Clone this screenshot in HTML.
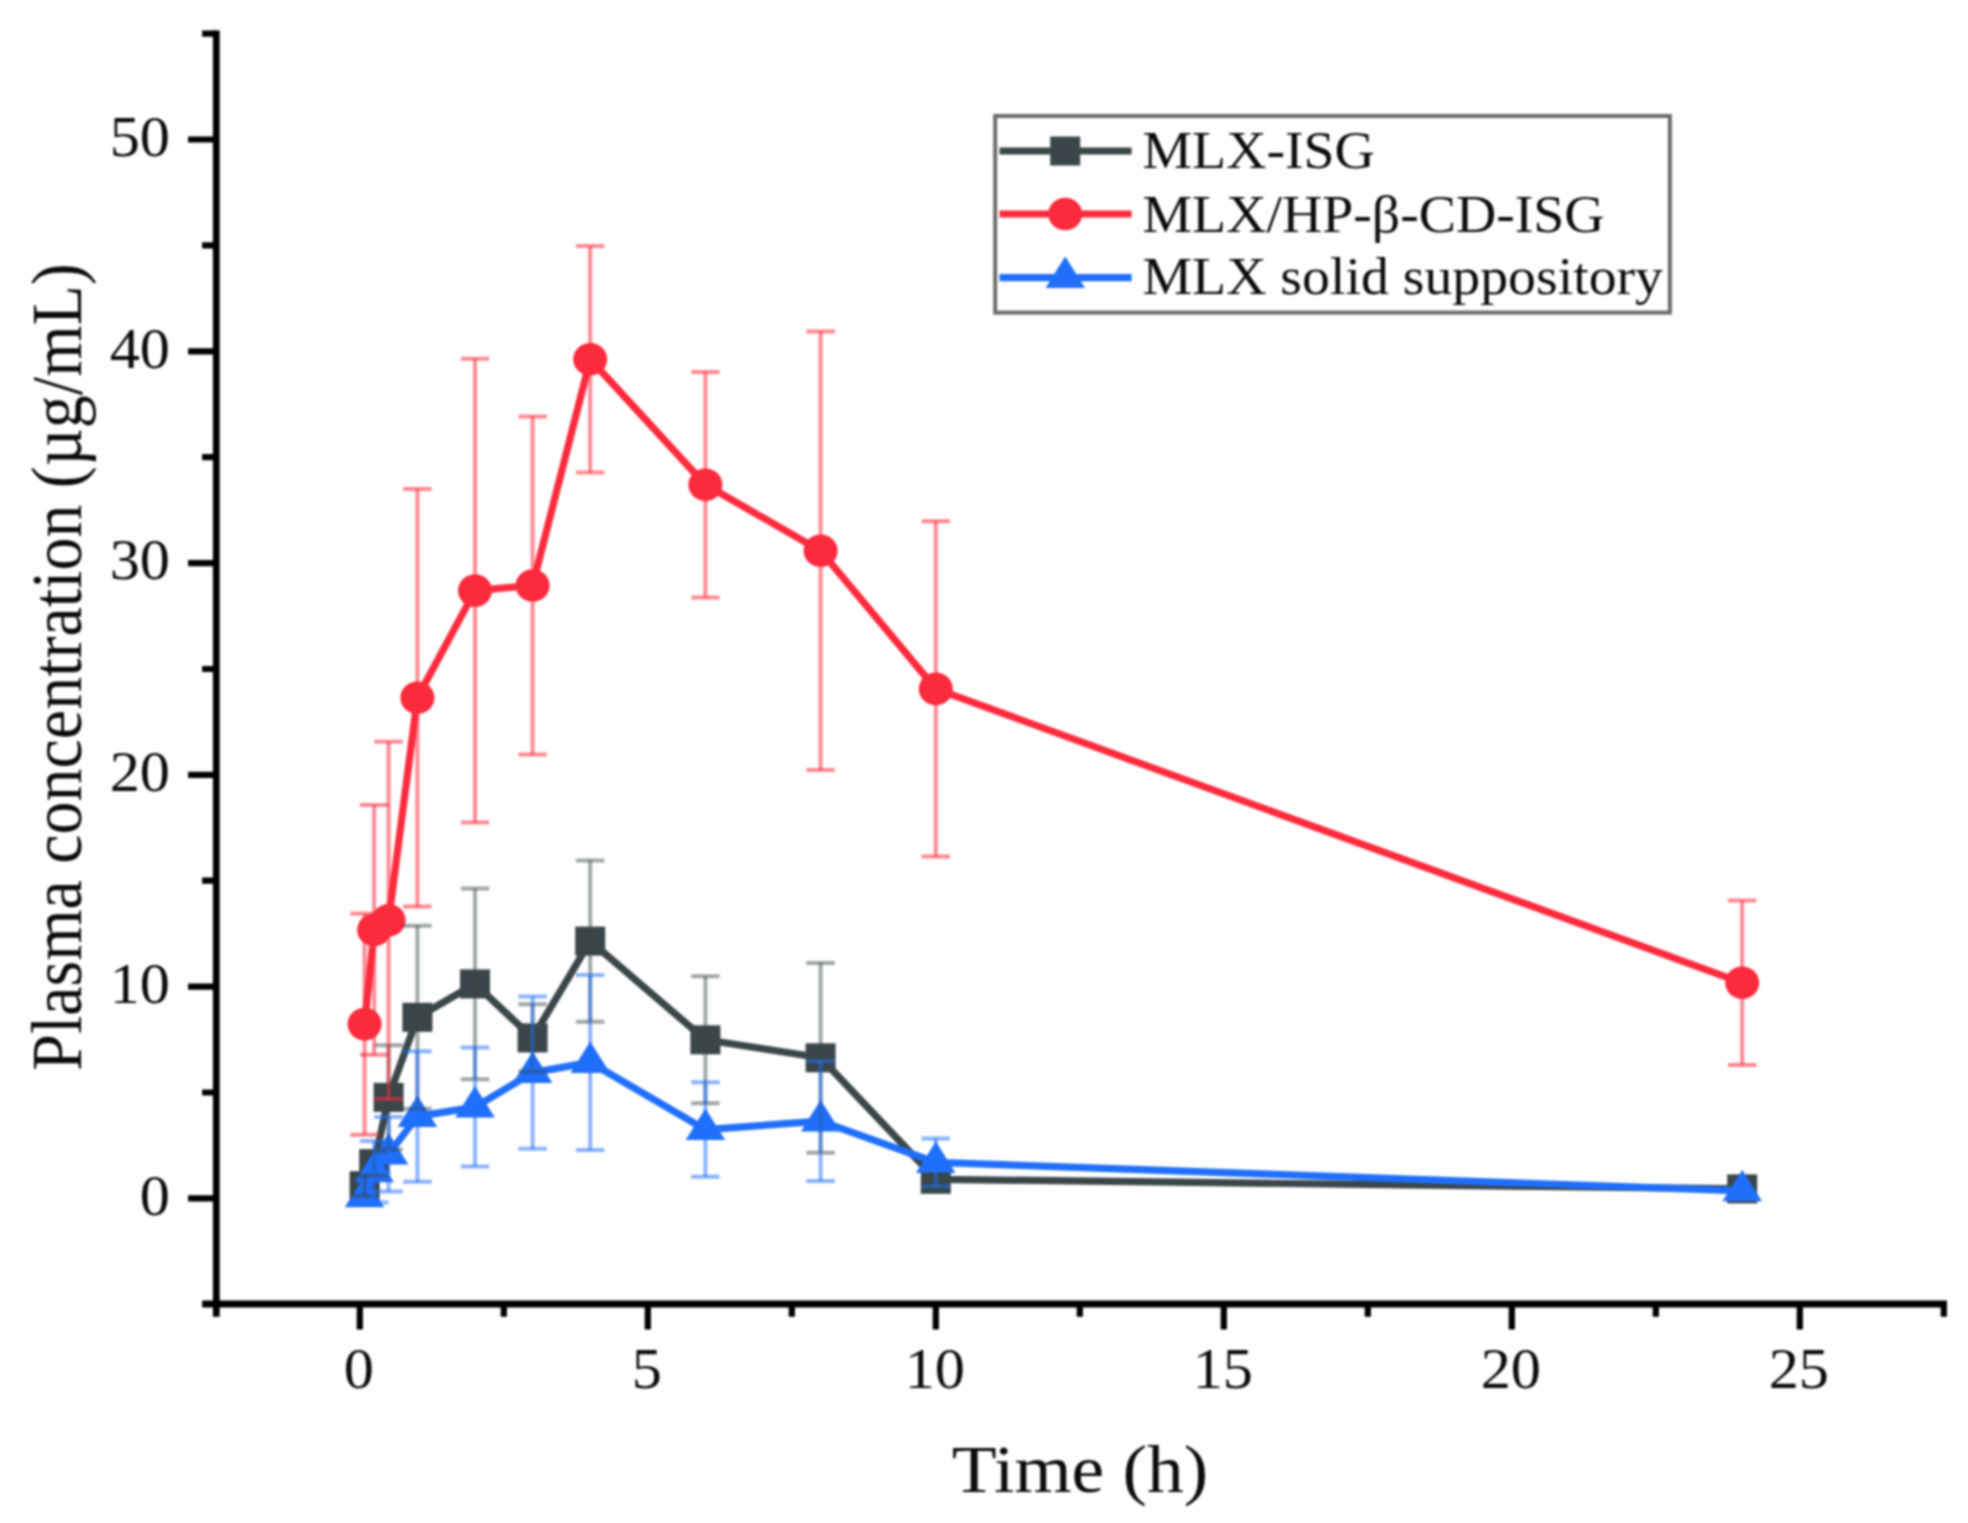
<!DOCTYPE html>
<html lang="en"><head><meta charset="utf-8"><title>Plasma concentration vs time</title>
<style>html,body{margin:0;padding:0;background:#fefefe;overflow:hidden;}svg{display:block;font-family:"Liberation Serif",serif;}text{fill:#0c0c0c;}</style></head><body>
<svg width="1968" height="1523" viewBox="0 0 1968 1523">
<rect x="0" y="0" width="1968" height="1523" fill="#fefefe"/>
<defs><filter id="soft" x="-10" y="-10" width="1988" height="1543" filterUnits="userSpaceOnUse" color-interpolation-filters="sRGB"><feGaussianBlur stdDeviation="1"/></filter></defs>
<g filter="url(#soft)">
<rect x="-30" y="-30" width="2028" height="1583" fill="#fefefe"/>
<g id="series-gray">
<polyline points="364.6,1185.7 374.2,1163.7 388.6,1097.4 417.4,1017.3 475.0,983.9 532.6,1037.9 590.2,941.1 705.4,1039.8 820.6,1057.8 935.8,1179.3 1742.2,1188.9" fill="none" stroke="#3a4649" stroke-width="7.2" stroke-linejoin="round" stroke-linecap="round"/>
<rect x="349.6" y="1171.2" width="30.0" height="29.0" fill="#3a4649"/>
<rect x="359.2" y="1149.2" width="30.0" height="29.0" fill="#3a4649"/>
<rect x="373.6" y="1082.9" width="30.0" height="29.0" fill="#3a4649"/>
<rect x="402.4" y="1002.8" width="30.0" height="29.0" fill="#3a4649"/>
<rect x="460.0" y="969.4" width="30.0" height="29.0" fill="#3a4649"/>
<rect x="517.6" y="1023.4" width="30.0" height="29.0" fill="#3a4649"/>
<rect x="575.2" y="926.6" width="30.0" height="29.0" fill="#3a4649"/>
<rect x="690.4" y="1025.3" width="30.0" height="29.0" fill="#3a4649"/>
<rect x="805.6" y="1043.3" width="30.0" height="29.0" fill="#3a4649"/>
<rect x="920.8" y="1164.8" width="30.0" height="29.0" fill="#3a4649"/>
<rect x="1727.2" y="1174.4" width="30.0" height="29.0" fill="#3a4649"/>
</g>
<g id="series-red">
<polyline points="364.6,1024.1 374.2,929.9 388.6,920.3 417.4,697.8 475.0,590.6 532.6,585.5 590.2,359.3 705.4,484.7 820.6,550.8 935.8,688.9 1742.2,982.8" fill="none" stroke="#fb2a3d" stroke-width="7.2" stroke-linejoin="round" stroke-linecap="round"/>
<ellipse cx="364.6" cy="1024.1" rx="17" ry="16.3" fill="#fb2a3d"/>
<ellipse cx="374.2" cy="929.9" rx="17" ry="16.3" fill="#fb2a3d"/>
<ellipse cx="388.6" cy="920.3" rx="17" ry="16.3" fill="#fb2a3d"/>
<ellipse cx="417.4" cy="697.8" rx="17" ry="16.3" fill="#fb2a3d"/>
<ellipse cx="475.0" cy="590.6" rx="17" ry="16.3" fill="#fb2a3d"/>
<ellipse cx="532.6" cy="585.5" rx="17" ry="16.3" fill="#fb2a3d"/>
<ellipse cx="590.2" cy="359.3" rx="17" ry="16.3" fill="#fb2a3d"/>
<ellipse cx="705.4" cy="484.7" rx="17" ry="16.3" fill="#fb2a3d"/>
<ellipse cx="820.6" cy="550.8" rx="17" ry="16.3" fill="#fb2a3d"/>
<ellipse cx="935.8" cy="688.9" rx="17" ry="16.3" fill="#fb2a3d"/>
<ellipse cx="1742.2" cy="982.8" rx="17" ry="16.3" fill="#fb2a3d"/>
</g>
<g id="series-blue">
<polyline points="364.6,1196.7 374.2,1171.7 388.6,1154.1 417.4,1116.4 475.0,1107.1 532.6,1072.6 590.2,1062.4 705.4,1129.6 820.6,1121.1 935.8,1162.4 1742.2,1190.8" fill="none" stroke="#1f6ffb" stroke-width="7.2" stroke-linejoin="round" stroke-linecap="round"/>
<polygon points="364.6,1175.7 384.3,1207.2 344.8,1207.2" fill="#1f6ffb"/>
<polygon points="374.2,1150.7 393.9,1182.2 354.4,1182.2" fill="#1f6ffb"/>
<polygon points="388.6,1133.1 408.4,1164.6 368.9,1164.6" fill="#1f6ffb"/>
<polygon points="417.4,1095.4 437.2,1126.9 397.7,1126.9" fill="#1f6ffb"/>
<polygon points="475.0,1086.1 494.8,1117.6 455.2,1117.6" fill="#1f6ffb"/>
<polygon points="532.6,1051.6 552.4,1083.1 512.9,1083.1" fill="#1f6ffb"/>
<polygon points="590.2,1041.4 610.0,1072.9 570.5,1072.9" fill="#1f6ffb"/>
<polygon points="705.4,1108.6 725.2,1140.1 685.7,1140.1" fill="#1f6ffb"/>
<polygon points="820.6,1100.1 840.4,1131.6 800.9,1131.6" fill="#1f6ffb"/>
<polygon points="935.8,1141.4 955.5,1172.9 916.0,1172.9" fill="#1f6ffb"/>
<polygon points="1742.2,1169.8 1762.0,1201.3 1722.5,1201.3" fill="#1f6ffb"/>
</g>
<g stroke="#3a4649" stroke-width="4.0" stroke-opacity="0.47" fill="none">
<path d="M364.6,1175.3V1196.1M374.2,1151.4V1176.0M388.6,1045.3V1149.5M417.4,925.8V1108.8M475.0,888.6V1079.2M532.6,1004.2V1071.5M590.2,860.4V1021.8M705.4,976.2V1103.3M820.6,962.9V1152.7M935.8,1174.0V1184.6"/>
<path d="M350.4,1175.3H378.8M350.4,1196.1H378.8M360.0,1151.4H388.4M360.0,1176.0H388.4M374.4,1045.3H402.8M374.4,1149.5H402.8M403.2,925.8H431.6M403.2,1108.8H431.6M460.8,888.6H489.2M460.8,1079.2H489.2M518.4,1004.2H546.8M518.4,1071.5H546.8M576.0,860.4H604.4M576.0,1021.8H604.4M691.2,976.2H719.6M691.2,1103.3H719.6M806.4,962.9H834.8M806.4,1152.7H834.8M921.6,1174.0H950.0M921.6,1184.6H950.0"/>
</g>
<g stroke="#fb2a3d" stroke-width="4.0" stroke-opacity="0.55" fill="none">
<path d="M364.6,913.6V1134.7M374.2,804.9V1054.8M388.6,741.8V1098.9M417.4,489.1V906.4M475.0,358.7V822.5M532.6,416.5V754.5M590.2,246.0V472.6M705.4,372.0V597.4M820.6,331.6V770.0M935.8,521.3V856.4M1742.2,900.6V1065.0"/>
<path d="M350.4,913.6H378.8M350.4,1134.7H378.8M360.0,804.9H388.4M360.0,1054.8H388.4M374.4,741.8H402.8M374.4,1098.9H402.8M403.2,489.1H431.6M403.2,906.4H431.6M460.8,358.7H489.2M460.8,822.5H489.2M518.4,416.5H546.8M518.4,754.5H546.8M576.0,246.0H604.4M576.0,472.6H604.4M691.2,372.0H719.6M691.2,597.4H719.6M806.4,331.6H834.8M806.4,770.0H834.8M921.6,521.3H950.0M921.6,856.4H950.0M1728.0,900.6H1756.4M1728.0,1065.0H1756.4"/>
</g>
<g stroke="#1f6ffb" stroke-width="4.0" stroke-opacity="0.52" fill="none">
<path d="M374.2,1141.0V1202.4M388.6,1116.9V1191.4M417.4,1051.2V1181.7M475.0,1047.6V1166.6M532.6,996.4V1148.8M590.2,975.0V1149.9M705.4,1082.3V1176.8M820.6,1061.2V1181.0M935.8,1138.5V1186.3"/>
<path d="M360.0,1141.0H388.4M360.0,1202.4H388.4M374.4,1116.9H402.8M374.4,1191.4H402.8M403.2,1051.2H431.6M403.2,1181.7H431.6M460.8,1047.6H489.2M460.8,1166.6H489.2M518.4,996.4H546.8M518.4,1148.8H546.8M576.0,975.0H604.4M576.0,1149.9H604.4M691.2,1082.3H719.6M691.2,1176.8H719.6M806.4,1061.2H834.8M806.4,1181.0H834.8M921.6,1138.5H950.0M921.6,1186.3H950.0"/>
</g>
<g stroke="#000" fill="none">
<path d="M216.3,30.5V1316.7" stroke-width="6.8"/>
<path d="M202.1,1304.0H1946.9" stroke-width="6.8"/>
<path d="M188.1,1198.4H216.3M188.1,986.6H216.3M188.1,774.8H216.3M188.1,563.1H216.3M188.1,351.3H216.3M188.1,139.5H216.3M202.1,1092.5H216.3M202.1,880.7H216.3M202.1,669.0H216.3M202.1,457.2H216.3M202.1,245.4H216.3M202.1,33.6H216.3M359.8,1304.0V1329.4M647.8,1304.0V1329.4M935.8,1304.0V1329.4M1223.8,1304.0V1329.4M1511.8,1304.0V1329.4M1799.8,1304.0V1329.4M503.8,1304.0V1316.7M791.8,1304.0V1316.7M1079.8,1304.0V1316.7M1367.8,1304.0V1316.7M1655.8,1304.0V1316.7M1943.8,1304.0V1316.7" stroke-width="6.2"/>
</g>
<g font-size="58" text-anchor="end">
<text transform="translate(170,1214.6) scale(1.04,1)">0</text>
<text transform="translate(170,1002.8) scale(1.04,1)">10</text>
<text transform="translate(170,791.0) scale(1.04,1)">20</text>
<text transform="translate(170,579.3) scale(1.04,1)">30</text>
<text transform="translate(170,367.5) scale(1.04,1)">40</text>
<text transform="translate(170,155.7) scale(1.04,1)">50</text>
</g>
<g font-size="58" text-anchor="middle">
<text transform="translate(358.8,1387.6) scale(1.04,1)">0</text>
<text transform="translate(646.8,1387.6) scale(1.04,1)">5</text>
<text transform="translate(934.8,1387.6) scale(1.04,1)">10</text>
<text transform="translate(1222.8,1387.6) scale(1.04,1)">15</text>
<text transform="translate(1510.8,1387.6) scale(1.04,1)">20</text>
<text transform="translate(1798.8,1387.6) scale(1.04,1)">25</text>
</g>
<text transform="translate(1080,1492) scale(1.05,0.975)" font-size="70" text-anchor="middle">Time (h)</text>
<text transform="translate(81,667) rotate(-90) scale(1,1.1)" font-size="66" text-anchor="middle">Plasma concentration (µg/mL)</text>
<g id="legend">
<rect x="995.2" y="116" width="674.7" height="196.6" fill="#fefefe" stroke="#6b6b6b" stroke-width="4"/>
<line x1="999.5" y1="151" x2="1131.6" y2="151" stroke="#3a4649" stroke-width="7.2"/>
<line x1="999.5" y1="214" x2="1131.6" y2="214" stroke="#fb2a3d" stroke-width="7.2"/>
<line x1="999.5" y1="277.6" x2="1131.6" y2="277.6" stroke="#1f6ffb" stroke-width="7.2"/>
<rect x="1050.2" y="136.5" width="30.0" height="29.0" fill="#3a4649"/>
<ellipse cx="1065.2" cy="214" rx="17" ry="16.3" fill="#fb2a3d"/>
<polygon points="1065.2,256.6 1085.0,288.1 1045.5,288.1" fill="#1f6ffb"/>
<g font-size="54">
<text transform="translate(1142.5,168.4) scale(1.033,0.975)">MLX-ISG</text>
<text transform="translate(1142.5,231.8) scale(1.033,0.975)">MLX/HP-β-CD-ISG</text>
<text transform="translate(1142.5,294.0) scale(1.033,0.975)">MLX solid suppository</text>
</g>
</g>
</g>
</svg>
</body></html>
